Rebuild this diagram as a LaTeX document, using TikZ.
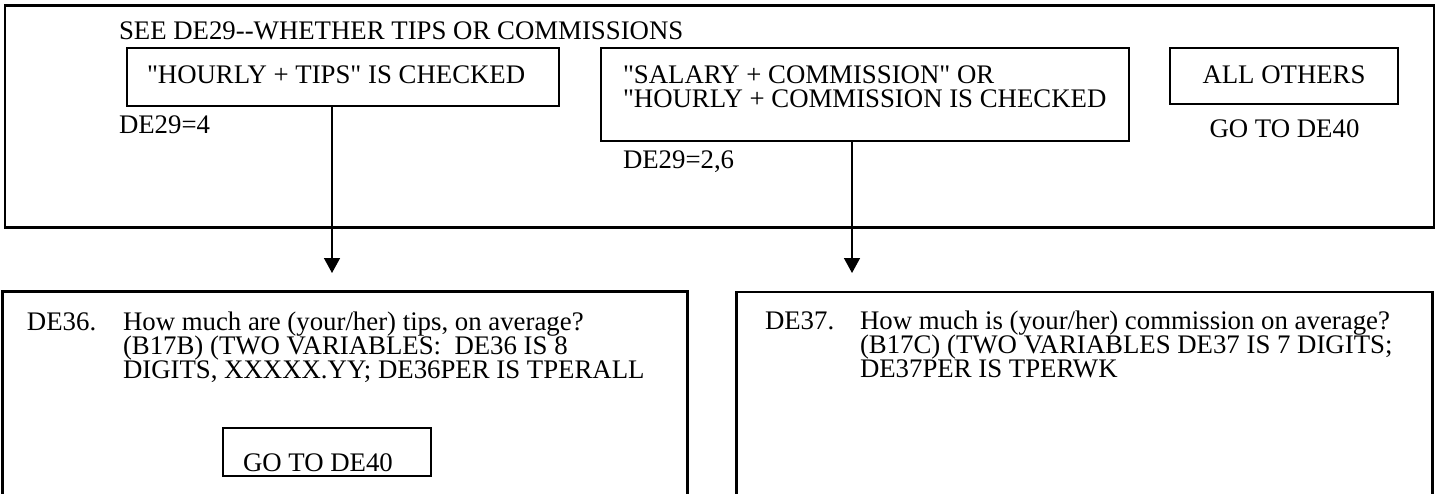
\documentclass[tikz,border=0pt]{standalone}
\usepackage{fontspec}
\setmainfont{Liberation Serif}[Ligatures=TeXOff]
\usetikzlibrary{arrows.meta}
\begin{document}
\begin{tikzpicture}[x=1pt,y=-1pt,
  font=\fontsize{26.8}{24}\selectfont,
  txt/.style={anchor=base west,inner sep=0pt,outer sep=0pt},
  frame/.style={draw,line width=2.5pt,inner sep=0pt,outer sep=0pt},
  box/.style={draw,line width=2pt,inner sep=0pt,outer sep=0pt},
  flow/.style={line width=1.5pt,-{Triangle[length=15pt,width=16pt]}}]
\useasboundingbox (0,0) rectangle (1438,493);
% top frame
\node[frame,minimum width=1429pt,minimum height=222pt] (top) at (719.5,116.7) {};
\node[txt] (title) at (119,39) {SEE DE29--WHETHER TIPS OR COMMISSIONS};
% option boxes
\node[box,minimum width=432pt,minimum height=58pt] (boxA) at (343,77) {};
\node[txt] (textA) at (147,83) {"HOURLY + TIPS" IS CHECKED};
\node[txt] (codeA) at (119,133) {DE29=4};
\node[box,minimum width=528.5pt,minimum height=93pt] (boxB) at (864.75,94.5) {};
\node[txt] (textB1) at (623,83) {"SALARY + COMMISSION" OR};
\node[txt] (textB2) at (623,107) {"HOURLY + COMMISSION IS CHECKED};
\node[txt] (codeB) at (623,168) {DE29=2,6};
\node[box,minimum width=228pt,minimum height=56pt] (boxC) at (1284,76) {};
\node[anchor=base,inner sep=0pt] (textC) at (1284,83) {ALL OTHERS};
\node[anchor=base,inner sep=0pt] (gotoC) at (1284.5,137) {GO TO DE40};
% lower boxes (open at the bottom edge of the picture)
\coordinate (L1) at (2.7,500);
\coordinate (L2) at (2.7,291.7);
\coordinate (L3) at (687.3,291.7);
\coordinate (L4) at (687.3,500);
\draw[line width=2.5pt] (L1) -- (L2) -- (L3) -- (L4);
\coordinate (R1) at (736.5,500);
\coordinate (R2) at (736.5,292);
\coordinate (R3) at (1432.7,292);
\coordinate (R4) at (1432.7,500);
\draw[line width=2.5pt] (R1) -- (R2) -- (R3) -- (R4);
% DE36
\node[txt] (q36) at (27,330) {DE36.};
\node[txt] (q36a) at (123,330) {How much are (your/her) tips, on average?};
\node[txt] (q36b) at (123,354) {(B17B) (TWO VARIABLES:\ \ DE36 IS 8};
\node[txt] (q36c) at (123,378) {DIGITS, XXXXX.YY; DE36PER IS TPERALL};
\node[box,minimum width=208pt,minimum height=48.3pt] (goto36) at (326.7,451.85) {};
\node[txt] (goto36t) at (243,471) {GO TO DE40};
% DE37
\node[txt] (q37) at (765,329) {DE37.};
\node[txt] (q37a) at (860,329) {How much is (your/her) commission on average?};
\node[txt] (q37b) at (860,353) {(B17C) (TWO VARIABLES DE37 IS 7 DIGITS;};
\node[txt] (q37c) at (860,377) {DE37PER IS TPERWK};
% arrows
\coordinate (tipA) at (332,273);
\coordinate (tipB) at (852,273);
\draw[flow] (boxA.south -| tipA) -- (tipA);
\draw[flow] (boxB.south -| tipB) -- (tipB);
\end{tikzpicture}
\end{document}
